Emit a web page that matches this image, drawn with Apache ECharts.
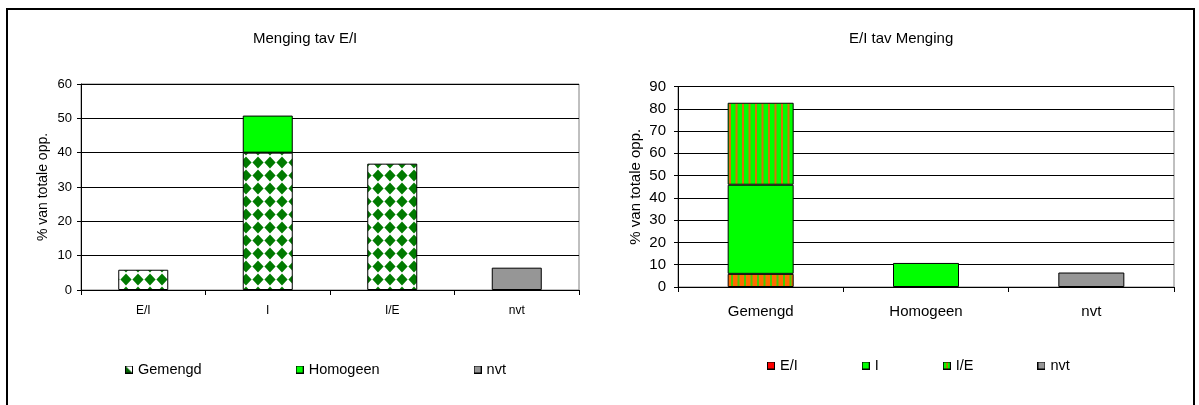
<!DOCTYPE html>
<html>
<head>
<meta charset="utf-8">
<script src="https://cdn.jsdelivr.net/npm/echarts@6/dist/echarts.min.js"></script>
<style>
  html, body { margin: 0; padding: 0; background: #fff; }
  #wrap { position: relative; width: 1199px; height: 405px; overflow: hidden; background: #fff; }
  #frame { position: absolute; left: 6px; top: 8px; width: 1189px; height: 420px; border: 2px solid #000; box-sizing: border-box; }
  #chart { position: absolute; left: 0; top: 0; width: 1199px; height: 405px; }
</style>
</head>
<body>
<div id="wrap">
  <div id="frame"></div>
  <div id="chart"></div>
</div>
<script>
// Share of total area (%) by type (E/I, I, I/E, nvt) and mixing (Gemengd, Homogeen, nvt)
const typeCategories = ['E/I', 'I', 'I/E', 'nvt'];
const mixCategories = ['Gemengd', 'Homogeen', 'nvt'];
const gemengd = [5.9, 40.0, 36.8, null];
const homogeen = [null, 10.8, null, null];
const nvtShare = [null, null, null, 6.5];
const leftTicks = [0, 10, 20, 30, 40, 50, 60];
const rightTicks = [0, 10, 20, 30, 40, 50, 60, 70, 80, 90];

// right chart: same table read the other way round (series = type, category = mixing)
const byMix = [gemengd, homogeen, nvtShare];
const typeSeries = typeCategories.map((t, ti) => byMix.map(row => row[ti]));

const FONT = '"Liberation Sans", Arial, sans-serif';
const GREEN = '#00ff00';
const GREY = '#969696';

function tile(w, h, draw) {
  const c = document.createElement('canvas');
  c.width = w; c.height = h;
  draw(c.getContext('2d'), w, h);
  return c;
}
// white ground with dark green diamonds, nearly touching
const diamondTile = tile(12, 13, (g, w, h) => {
  g.fillStyle = '#fff'; g.fillRect(0, 0, w, h);
  g.fillStyle = '#007a00';
  g.beginPath();
  g.moveTo(6, 0.6); g.lineTo(11.6, 6.5); g.lineTo(6, 12.4); g.lineTo(0.4, 6.5);
  g.closePath(); g.fill();
});
// green with orange vertical stripes
const greenStripe = tile(13, 4, (g, w, h) => {
  g.fillStyle = GREEN; g.fillRect(0, 0, w, h);
  g.fillStyle = '#d9700a';
  g.fillRect(1, 0, 2, h); g.fillRect(7.5, 0, 2, h);
});
// orange with green vertical stripes
const orangeStripe = tile(13, 4, (g, w, h) => {
  g.fillStyle = '#ff6a00'; g.fillRect(0, 0, w, h);
  g.fillStyle = '#44cc00';
  g.fillRect(3, 0, 2, h); g.fillRect(9.5, 0, 2, h);
});

// legend swatches, 8x8 with a black edge
function swatch(fill) {
  return 'image://' + tile(8, 8, (g, w, h) => {
    g.fillStyle = '#000'; g.fillRect(0, 0, w, h);
    g.fillStyle = '#fff'; g.fillRect(1, 1, w - 2, h - 2);
    fill(g);
  }).toDataURL();
}
const iconGemengd = swatch(g => {
  g.fillStyle = '#006400';
  g.beginPath(); g.moveTo(1, 1); g.lineTo(7, 7); g.lineTo(1, 7); g.closePath(); g.fill();
});
const iconSolid = c => swatch(g => { g.fillStyle = c; g.fillRect(1, 1, 6, 6); });
const iconIE = swatch(g => {
  g.fillStyle = GREEN; g.fillRect(1, 1, 6, 6);
  g.fillStyle = '#e06000'; g.fillRect(3.5, 1, 1.5, 6);
});

const border = { borderColor: '#000', borderWidth: 1 };

function yAxis(gridIndex, ticks, fontSize, margin, nameSize, nameGap) {
  return {
    type: 'value', gridIndex,
    min: ticks[0], max: ticks[ticks.length - 1], interval: ticks[1] - ticks[0],
    name: '% van totale opp.', nameLocation: 'middle', nameRotate: 90, nameGap,
    nameTextStyle: { color: '#000', fontFamily: FONT, fontSize: nameSize },
    axisLine: { show: true, lineStyle: { color: '#000', width: 1 } },
    axisTick: { show: true, length: 4, lineStyle: { color: '#000' } },
    axisLabel: { color: '#000', fontFamily: FONT, fontSize, margin },
    splitLine: { show: true, lineStyle: { color: '#000', width: 1 } }
  };
}
function xAxis(gridIndex, data, fontSize, margin) {
  return {
    type: 'category', gridIndex, data,
    axisLine: { show: true, lineStyle: { color: '#000', width: 1 } },
    axisTick: { show: true, length: 5, lineStyle: { color: '#000' } },
    axisLabel: { color: '#000', fontFamily: FONT, fontSize, margin, interval: 0 },
    splitLine: { show: false }
  };
}

const option = {
  animation: false,
  backgroundColor: 'transparent',
  title: [
    { text: 'Menging tav E/I', left: 253, top: 31, padding: 0,
      textStyle: { color: '#000', fontFamily: FONT, fontSize: 15, fontWeight: 'normal' } },
    { text: 'E/I tav Menging', left: 849, top: 31, padding: 0,
      textStyle: { color: '#000', fontFamily: FONT, fontSize: 15, fontWeight: 'normal' } }
  ],
  grid: [
    { left: 81, right: 620, top: 84, bottom: 115, show: true, borderColor: '#808080', borderWidth: 1, backgroundColor: 'transparent' },
    { left: 678, right: 25, top: 86.5, bottom: 118, show: true, borderColor: '#808080', borderWidth: 1, backgroundColor: 'transparent' }
  ],
  xAxis: [
    xAxis(0, typeCategories, 12, 15),
    xAxis(1, mixCategories, 15, 17)
  ],
  yAxis: [
    yAxis(0, leftTicks, 13, 9, 14, 31),
    yAxis(1, rightTicks, 15, 12, 15, 35)
  ],
  legend: [
    { left: 125, top: 362, padding: 0, itemWidth: 8, itemHeight: 8, itemGap: 94,
      textStyle: { color: '#000', fontFamily: FONT, fontSize: 14.5 },
      data: [
        { name: 'Gemengd', icon: iconGemengd },
        { name: 'Homogeen', icon: iconSolid(GREEN) },
        { name: 'nvt', icon: iconSolid(GREY) }
      ] },
    { left: 767, top: 358, padding: 0, itemWidth: 8, itemHeight: 8, itemGap: 64,
      textStyle: { color: '#000', fontFamily: FONT, fontSize: 14.5 },
      data: [
        { name: 'E/I', icon: iconSolid('#ff0000') },
        { name: 'I', icon: iconSolid(GREEN) },
        { name: 'I/E', icon: iconIE },
        { name: 'nvt', icon: iconSolid(GREY) }
      ] }
  ],
  series: [
    { name: 'Gemengd', type: 'bar', xAxisIndex: 0, yAxisIndex: 0, stack: 'left', barWidth: 50,
      data: gemengd, itemStyle: Object.assign({ color: { image: diamondTile, repeat: 'repeat' } }, border) },
    { name: 'Homogeen', type: 'bar', xAxisIndex: 0, yAxisIndex: 0, stack: 'left', barWidth: 50,
      data: homogeen, itemStyle: Object.assign({ color: GREEN }, border) },
    { name: 'nvt', type: 'bar', xAxisIndex: 0, yAxisIndex: 0, stack: 'left', barWidth: 50,
      data: nvtShare, itemStyle: Object.assign({ color: GREY }, border) },

    { name: 'E/I', type: 'bar', xAxisIndex: 1, yAxisIndex: 1, stack: 'right', barWidth: 66,
      data: typeSeries[0], itemStyle: Object.assign({ color: { image: orangeStripe, repeat: 'repeat' } }, border) },
    { name: 'I', type: 'bar', xAxisIndex: 1, yAxisIndex: 1, stack: 'right', barWidth: 66,
      data: typeSeries[1], itemStyle: Object.assign({ color: GREEN }, border) },
    { name: 'I/E', type: 'bar', xAxisIndex: 1, yAxisIndex: 1, stack: 'right', barWidth: 66,
      data: typeSeries[2], itemStyle: Object.assign({ color: { image: greenStripe, repeat: 'repeat' } }, border) },
    { name: 'nvt', type: 'bar', xAxisIndex: 1, yAxisIndex: 1, stack: 'right', barWidth: 66,
      data: typeSeries[3], itemStyle: Object.assign({ color: GREY }, border) }
  ]
};

const chart = echarts.init(document.getElementById('chart'), null, { renderer: 'canvas' });
chart.setOption(option);
</script>
</body>
</html>
